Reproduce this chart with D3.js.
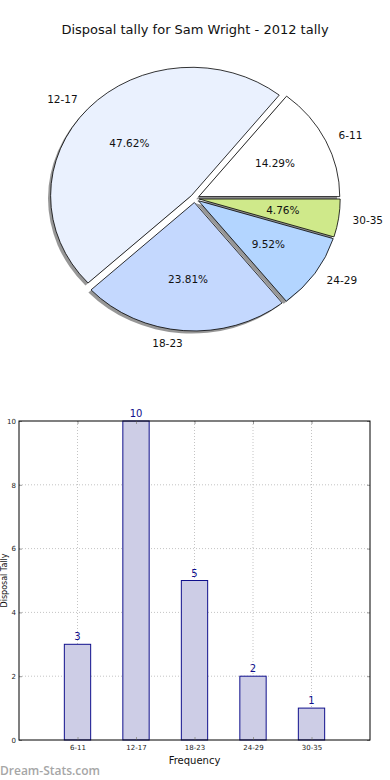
<!DOCTYPE html>
<html>
<head>
<meta charset="utf-8">
<script src="https://cdn.jsdelivr.net/npm/d3@7"></script>
<style>
  body { margin: 0; background: #fff; }
  svg { display: block; font-family: "DejaVu Sans", sans-serif; }
</style>
</head>
<body>
<svg width="390" height="780"></svg>
<script>
// datos del gráfico
const categories = ["6-11", "12-17", "18-23", "24-29", "30-35"];
const counts = [3, 10, 5, 2, 1];
const sliceColors = ["#ffffff", "#eaf1fe", "#c4d8fe", "#b3d5ff", "#cfe98a"];
const yTicks = [0, 2, 4, 6, 8, 10];
const chartTitle = "Disposal tally for Sam Wright - 2012 tally";

const svg = d3.select("svg");
const total = d3.sum(counts);

svg.append("text")
  .attr("x", 195).attr("y", 34)
  .attr("text-anchor", "middle")
  .attr("font-size", 13)
  .attr("fill", "#111")
  .text(chartTitle);

// ---- Pie (elliptical, like matplotlib without equal aspect) ----
const cx = 194.7, cy = 198.4, rx = 141, ry = 128.5;
const explode = 0.032;
const shadowDx = -2.6, shadowDy = 2.6;

// start at 3 o'clock, counter-clockwise
const pie = d3.pie().sort(null)
  .startAngle(Math.PI / 2)
  .endAngle(Math.PI / 2 - 2 * Math.PI);
const arcs = pie(counts);
const unitArc = d3.arc().innerRadius(0).outerRadius(1);

const dirOf = a => [Math.sin(a), -Math.cos(a)];

const pieG = svg.append("g");

// shadows first
arcs.forEach((d, i) => {
  const mid = (d.startAngle + d.endAngle) / 2;
  const [ux, uy] = dirOf(mid);
  const ox = cx + explode * rx * ux + shadowDx;
  const oy = cy + explode * ry * uy + shadowDy;
  pieG.append("path")
    .attr("d", unitArc(d))
    .attr("transform", `translate(${ox},${oy}) scale(${rx},${ry})`)
    .attr("fill", "#8c8c8c")
    .attr("opacity", 0.9);
});

arcs.forEach((d, i) => {
  const mid = (d.startAngle + d.endAngle) / 2;
  const [ux, uy] = dirOf(mid);
  const ox = cx + explode * rx * ux;
  const oy = cy + explode * ry * uy;
  pieG.append("path")
    .attr("d", unitArc(d))
    .attr("transform", `translate(${ox},${oy}) scale(${rx},${ry})`)
    .attr("fill", sliceColors[i])
    .attr("stroke", "#000")
    .attr("stroke-width", 0.8)
    .attr("vector-effect", "non-scaling-stroke");

  // percent label
  pieG.append("text")
    .attr("x", ox + 0.6 * rx * ux)
    .attr("y", oy + 0.6 * ry * uy)
    .attr("dy", "0.35em")
    .attr("text-anchor", "middle")
    .attr("font-size", 10.5)
    .attr("fill", "#111")
    .text((d.value / total * 100).toFixed(2) + "%");

  // category label
  pieG.append("text")
    .attr("x", ox + 1.1 * rx * ux)
    .attr("y", oy + 1.1 * ry * uy)
    .attr("dy", "0.35em")
    .attr("text-anchor", ux > 0.05 ? "start" : (ux < -0.05 ? "end" : "middle"))
    .attr("font-size", 10.5)
    .attr("fill", "#111")
    .text(categories[i]);
});

// ---- Bar chart ----
const x0 = 19, x1 = 370, y0 = 740, y1 = 421;

const x = d3.scaleLinear().domain([0, categories.length + 1]).range([x0, x1]);
const y = d3.scaleLinear().domain([0, 10]).range([y0, y1]);
const barW = 0.45;

const grid = svg.append("g")
  .attr("stroke", "#c4c4c4")
  .attr("stroke-width", 1)
  .attr("stroke-dasharray", "1,2");

categories.forEach((c, i) => {
  grid.append("line")
    .attr("x1", x(i + 1)).attr("x2", x(i + 1))
    .attr("y1", y1).attr("y2", y0);
});
yTicks.slice(1, -1).forEach(t => {
  grid.append("line")
    .attr("x1", x0).attr("x2", x1)
    .attr("y1", y(t)).attr("y2", y(t));
});

svg.append("g").selectAll("rect")
  .data(counts)
  .join("rect")
  .attr("x", (d, i) => x(i + 1 - barW / 2))
  .attr("y", d => y(d))
  .attr("width", x(barW) - x(0))
  .attr("height", d => y0 - y(d))
  .attr("fill", "#cdcde6")
  .attr("stroke", "#10108c")
  .attr("stroke-width", 1);

svg.append("g").selectAll("text")
  .data(counts)
  .join("text")
  .attr("x", (d, i) => x(i + 1))
  .attr("y", d => y(d) - 4)
  .attr("text-anchor", "middle")
  .attr("font-size", 10)
  .attr("fill", "#10108c")
  .text(d => d);

// axes
const xAxis = d3.axisBottom(x)
  .tickValues(d3.range(1, categories.length + 1))
  .tickFormat(v => categories[v - 1])
  .tickSize(-3);
const gx = svg.append("g")
  .attr("transform", `translate(0,${y0})`)
  .call(xAxis);
gx.select(".domain").remove();
gx.selectAll(".tick line").attr("stroke", "#999");
gx.selectAll(".tick text")
  .attr("y", 5)
  .attr("font-size", 7)
  .attr("font-family", "DejaVu Sans, sans-serif")
  .attr("fill", "#222");

const yAxis = d3.axisLeft(y).tickValues(yTicks).tickSize(-3);
const gy = svg.append("g")
  .attr("transform", `translate(${x0},0)`)
  .call(yAxis);
gy.select(".domain").remove();
gy.selectAll(".tick line").attr("stroke", "#999");
gy.selectAll(".tick text")
  .attr("x", -3)
  .attr("font-size", 7)
  .attr("font-family", "DejaVu Sans, sans-serif")
  .attr("fill", "#222");

// right/top ticks
const gyR = svg.append("g")
  .attr("transform", `translate(${x1},0)`)
  .call(d3.axisRight(y).tickValues(yTicks).tickSize(-3).tickFormat(""));
gyR.select(".domain").remove();
gyR.selectAll(".tick line").attr("stroke", "#999");
const gxT = svg.append("g")
  .attr("transform", `translate(0,${y1})`)
  .call(d3.axisTop(x).tickValues(d3.range(1, categories.length + 1)).tickSize(-3).tickFormat(""));
gxT.select(".domain").remove();
gxT.selectAll(".tick line").attr("stroke", "#999");

svg.append("rect")
  .attr("x", x0).attr("y", y1)
  .attr("width", x1 - x0).attr("height", y0 - y1)
  .attr("fill", "none")
  .attr("stroke", "#000")
  .attr("stroke-width", 1);

svg.append("text")
  .attr("x", (x0 + x1) / 2).attr("y", 764)
  .attr("text-anchor", "middle")
  .attr("font-size", 10)
  .attr("fill", "#111")
  .text("Frequency");

// y label: clipped in the original, kept small but readable here
svg.append("text")
  .attr("transform", `translate(7,${(y0 + y1) / 2}) rotate(-90)`)
  .attr("text-anchor", "middle")
  .attr("font-size", 8)
  .attr("fill", "#111")
  .text("Disposal Tally");

svg.append("text")
  .attr("x", 0).attr("y", 775)
  .attr("font-family", "Open Sans, sans-serif")
  .attr("font-weight", 600)
  .attr("font-size", 12)
  .attr("fill", "#a6a6a6")
  .text("Dream-Stats.com");
</script>
</body>
</html>
